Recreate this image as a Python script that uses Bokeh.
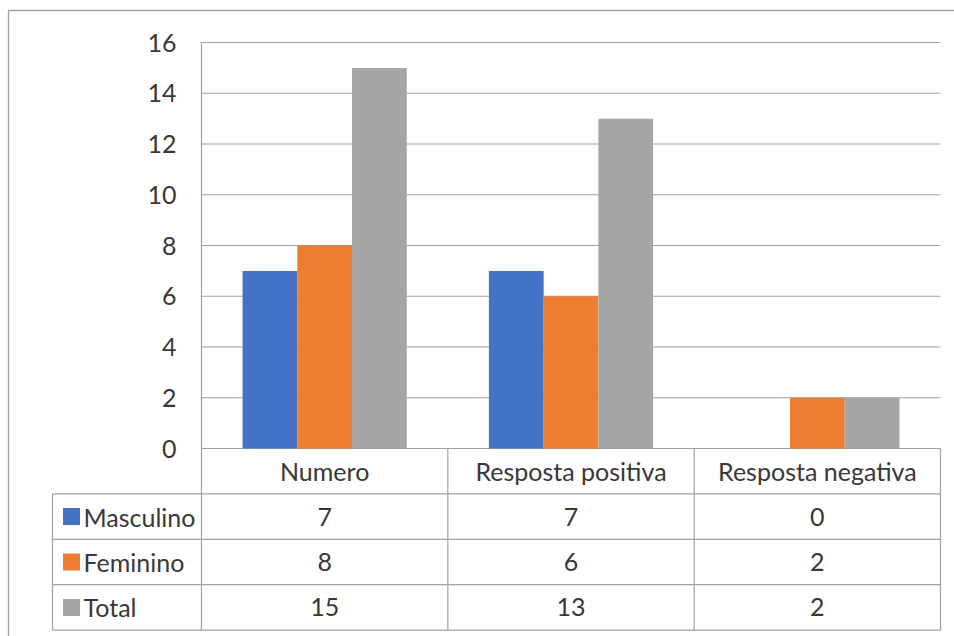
from bokeh.plotting import figure
from bokeh.models import Range1d
from bokeh.embed import file_html
from bokeh.resources import INLINE
from bokeh.core.properties import value

# ---- data ----
categories = ["Numero", "Resposta positiva", "Resposta negativa"]
series_names = ["Masculino", "Feminino", "Total"]
masculino = [7, 7, 0]
feminino = [8, 6, 2]
total = [15, 13, 2]
y_ticks = [0, 2, 4, 6, 8, 10, 12, 14, 16]

series_values = [masculino, feminino, total]
colors = ["#4472C4", "#ED7D31", "#A5A5A5"]

FONT = "Lato"
FSIZE = "25px"
TXT = "#383838"
LINE = "#a0a0a0"

W, H = 954, 636
FRAME_L, FRAME_R = 201, 940          # plot area, pixels
BASE_Y, TOP_Y = 448, 42              # pixel rows of 0 and 16
YMAX = 16
n = len(categories)
CW = (FRAME_R - FRAME_L) / n         # pixels per category
PPU = (BASE_Y - TOP_Y) / YMAX        # pixels per value unit
BAR_W = 1 / 4.5                      # Excel gap width 150%
RH = 45.4 / PPU                      # table row height in value units

p = figure(width=W, height=H,
           x_range=Range1d(-FRAME_L / CW, (W - FRAME_L) / CW),
           y_range=Range1d(-(H - BASE_Y) / PPU, BASE_Y / PPU),
           output_backend="svg", toolbar_location=None,
           x_axis_location=None, y_axis_location=None,
           min_border=0, min_border_left=0, min_border_right=0,
           min_border_top=0, min_border_bottom=0)
p.outline_line_color = None
p.grid.visible = False

# outer chart border (left and top edges visible)
OBX = (8 - FRAME_L) / CW
OBY = (BASE_Y - 10) / PPU
p.segment(x0=[OBX, OBX], y0=[OBY, OBY], x1=[OBX, 10], y1=[-20, OBY],
          line_color=LINE, line_width=1.3)

# horizontal gridlines at the value ticks
p.segment(x0=[0] * len(y_ticks), x1=[n] * len(y_ticks), y0=y_ticks, y1=y_ticks,
          line_color=LINE, line_width=1.2)
# value axis line
p.segment(x0=[0], x1=[0], y0=[0], y1=[max(y_ticks)], line_color=LINE, line_width=1.2)

# tick labels of the value axis
p.text(x=[(176 - FRAME_L) / CW] * len(y_ticks), y=y_ticks, text=[str(t) for t in y_ticks],
       text_align="right", text_baseline="middle", text_font=value(FONT),
       text_font_size=FSIZE, text_color=TXT)

# bars
for j, (vals, c) in enumerate(zip(series_values, colors)):
    xs = [i + 0.5 + (j - 1) * BAR_W for i in range(n)]
    p.vbar(x=xs, top=vals, bottom=0, width=BAR_W, fill_color=c, line_color=None)

# ---- data table ----
TL = (52 - FRAME_L) / CW
nrows = len(series_names)
x0, y0, x1, y1 = [], [], [], []
for r in range(1, nrows + 2):
    x0.append(TL); x1.append(n); y0.append(-r * RH); y1.append(-r * RH)
x0.append(TL); x1.append(TL); y0.append(-RH); y1.append(-(nrows + 1) * RH)
for k in range(n + 1):
    x0.append(k); x1.append(k); y0.append(0); y1.append(-(nrows + 1) * RH)
p.segment(x0=x0, y0=y0, x1=x1, y1=y1, line_color=LINE, line_width=1.2)

# header: category names
p.text(x=[i + 0.5 for i in range(n)], y=[-0.5 * RH] * n, text=categories,
       text_align="center", text_baseline="middle", text_font=value(FONT),
       text_font_size=FSIZE, text_color=TXT)

# values
vx, vy, vt = [], [], []
for j, vals in enumerate(series_values):
    for i, v in enumerate(vals):
        vx.append(i + 0.5); vy.append(-(j + 1.5) * RH); vt.append(str(v))
p.text(x=vx, y=vy, text=vt, text_align="center", text_baseline="middle",
       text_font=value(FONT), text_font_size=FSIZE, text_color=TXT)

# series names with legend keys
ry = [-(j + 1.5) * RH for j in range(nrows)]
p.text(x=[(83 - FRAME_L) / CW] * nrows, y=ry, text=series_names,
       text_align="left", text_baseline="middle", text_font=value(FONT),
       text_font_size=FSIZE, text_color=TXT)
p.scatter(x=[(71 - FRAME_L) / CW] * nrows, y=ry, marker="square", size=17,
          fill_color=colors, line_color=None)

open("out.html", "w").write(file_html(p, INLINE))
